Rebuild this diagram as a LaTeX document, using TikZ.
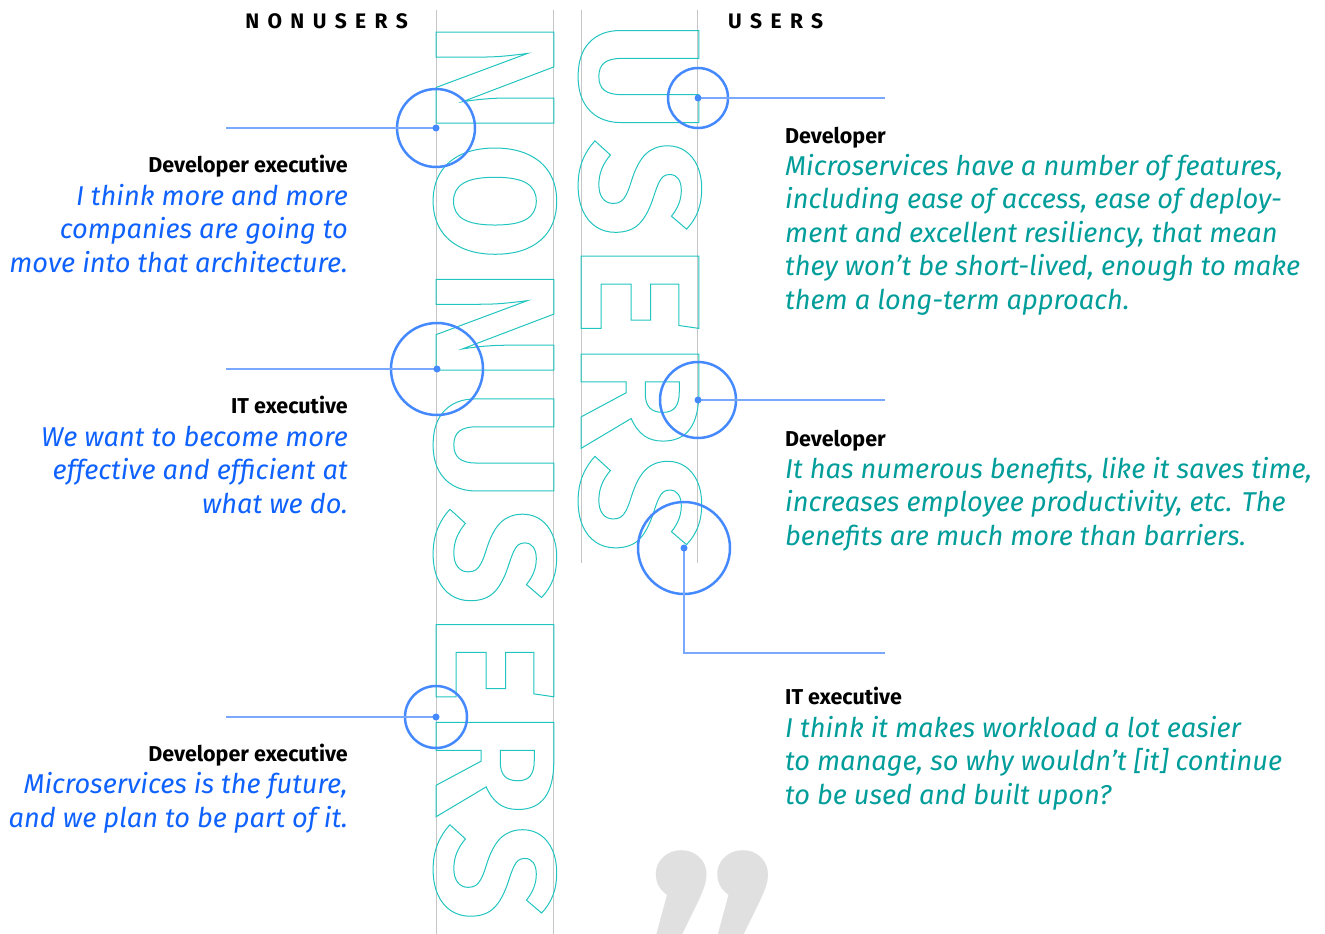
\documentclass[tikz,border=0pt]{standalone}
\usepackage{fontspec}
\setmainfont{Fira Sans}
\usetikzlibrary{positioning}
\definecolor{ringblue}{HTML}{4589FF}
\definecolor{leadblue}{HTML}{78A9FF}
\definecolor{quoteblue}{HTML}{0F62FE}
\definecolor{quoteteal}{HTML}{009D9A}
\definecolor{wordteal}{HTML}{22C4BF}
\definecolor{rulegray}{HTML}{C6C6C6}
\definecolor{markgray}{HTML}{E0E0E0}
\newcommand\hollow[1]{\special{pdf:literal direct 1 Tr 1 w}#1\special{pdf:literal direct 0 Tr}}
\tikzstyle{ring} = [circle, draw=ringblue, line width=2.5pt, inner sep=0pt]
\tikzstyle{dot} = [circle, fill=ringblue, inner sep=0pt, minimum size=7pt]
\tikzstyle{leader} = [leadblue, line width=1.5pt]
\tikzstyle{rule} = [rulegray, line width=1pt]
\tikzstyle{who} = [inner sep=0pt, text=black, font=\bfseries\fontsize{21.5}{24}\selectfont]
\tikzstyle{saidL} = [inner sep=0pt, align=right, anchor=base east, text=quoteblue, font=\itshape\fontsize{27.2}{33.5}\selectfont]
\tikzstyle{saidR} = [inner sep=0pt, align=left, anchor=base west, text=quoteteal, font=\itshape\fontsize{27.2}{33.5}\selectfont]
\tikzstyle{bigword} = [inner sep=0pt, rotate=-90, anchor=base west, text=wordteal, font=\bfseries\fontsize{170}{170}\selectfont\addfontfeatures{LetterSpace=5}]
\tikzstyle{header} = [inner sep=0pt, text=black, font=\bfseries\fontsize{21}{21}\selectfont\addfontfeatures{LetterSpace=40}]

\begin{document}
\begin{tikzpicture}[x=1pt, y=-1pt]
		\useasboundingbox (0,0) rectangle (1325,934);
		% column rules
		\draw [rule] (436,10) -- (436,934);
		\draw [rule] (553,10) -- (553,934);
		\draw [rule] (581,10) -- (581,563);
		\draw [rule] (697,10) -- (697,563);
		% hollow words
		\node (WordNonusers) [bigword] at (436,21) {\hollow{NONUSERS}};
		\node (WordUsers) [bigword] at (581,21) {\hollow{USERS}};
		\node (HeadNonusers) [header, anchor=base east] at (408,29) {NONUSERS};
		\node (HeadUsers) [header, anchor=base west] at (728,29) {USERS};
		% quote mark
		\begin{scope}
			\clip (0,0) rectangle (1325,934);
			\node (Mark) [inner sep=0pt, anchor=north west, text=markgray, font=\bfseries\fontsize{300}{300}\selectfont] at (645,850) {”};
		\end{scope}
		% rings
		\node (RingDevExec) [ring, minimum size=78pt] at (436,128) {};
		\node (RingItExec) [ring, minimum size=92pt] at (437,369) {};
		\node (RingDevExecLow) [ring, minimum size=62pt] at (436,717) {};
		\node (RingDev) [ring, minimum size=60pt] at (698,98) {};
		\node (RingDevLow) [ring, minimum size=76pt] at (698,400) {};
		\node (RingItExecRight) [ring, minimum size=92pt] at (684,548) {};
		\coordinate (EndDevExec) at (226,128);
		\coordinate (EndItExec) at (226,369);
		\coordinate (EndDevExecLow) at (226,717);
		\coordinate (EndDev) at (885,98);
		\coordinate (EndDevLow) at (885,400);
		\coordinate (EndItExecRight) at (885,653);
		\draw [leader] (RingDevExec.center) -- (EndDevExec);
		\draw [leader] (RingItExec.center) -- (EndItExec);
		\draw [leader] (RingDevExecLow.center) -- (EndDevExecLow);
		\draw [leader] (RingDev.center) -- (EndDev);
		\draw [leader] (RingDevLow.center) -- (EndDevLow);
		\draw [leader] (RingItExecRight.center) |- (EndItExecRight);
		\foreach \r in {DevExec, ItExec, DevExecLow, Dev, DevLow, ItExecRight}
			\node (Dot\r) [dot] at (Ring\r.center) {};
		% nonusers (quote nodes sit on their last line)
		\node (WhoDevExec) [who, anchor=base east] at (348,172) {Developer executive};
		\node (SaidDevExec) [saidL] at ([yshift=-100pt]WhoDevExec.base east) {I think more and more\\companies are going to\\move into that architecture.};
		\node (WhoItExec) [who, anchor=base east] at (348,413) {IT executive};
		\node (SaidItExec) [saidL] at ([yshift=-100pt]WhoItExec.base east) {We want to become more\\effective and efficient at\\what we do.};
		\node (WhoDevExecLow) [who, anchor=base east] at (348,761) {Developer executive};
		\node (SaidDevExecLow) [saidL] at ([yshift=-66pt]WhoDevExecLow.base east) {Microservices is the future,\\and we plan to be part of it.};
		% users
		\node (WhoDev) [who, anchor=base west] at (785,143) {Developer};
		\node (SaidDev) [saidR] at ([yshift=-166pt]WhoDev.base west) {Microservices have a number of features,\\including ease of access, ease of deploy-\\ment and excellent resiliency, that mean\\they won’t be short-lived, enough to make\\them a long-term approach.};
		\node (WhoDevLow) [who, anchor=base west] at (785,446) {Developer};
		\node (SaidDevLow) [saidR] at ([yshift=-99pt]WhoDevLow.base west) {It has numerous benefits, like it saves time,\\increases employee productivity, etc. The\\benefits are much more than barriers.};
		\node (WhoItExecRight) [who, anchor=base west] at (785,704) {IT executive};
		\node (SaidItExecRight) [saidR] at ([yshift=-100pt]WhoItExecRight.base west) {I think it makes workload a lot easier\\to manage, so why wouldn’t [it] continue\\to be used and built upon?};
\end{tikzpicture}
\end{document}
